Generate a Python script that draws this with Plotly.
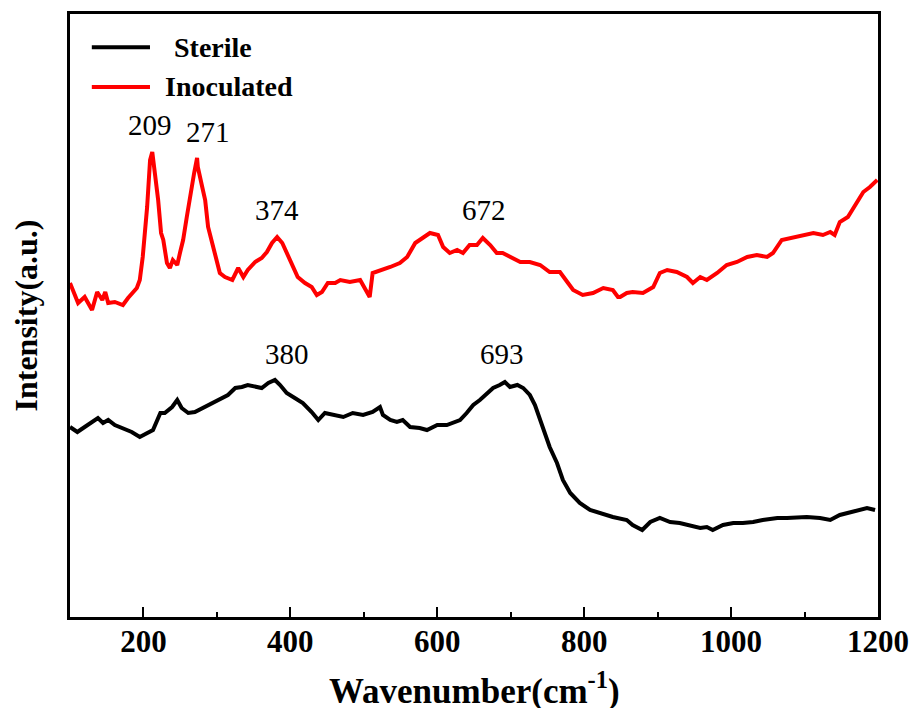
import plotly.graph_objects as go

# Raman spectra (intensity in arbitrary units)
inoc_wn = [100, 111, 120, 130, 137, 144, 148, 152, 161, 172, 179, 186, 191, 195, 199, 205, 209, 212, 214,
           220, 224, 227, 232, 236, 240, 246, 250, 254, 259, 265, 269, 273, 274, 280, 284, 288, 295, 300,
           304, 311, 321, 329, 336, 342, 352, 361, 368, 375, 382, 389, 395, 402, 410, 420, 429, 436, 443,
           451, 461, 468, 481, 495, 508, 512, 526, 536, 549, 559, 570, 581, 590, 601, 608, 617, 627, 635,
           644, 654, 662, 672, 681, 689, 699, 713, 726, 740, 753, 767, 777, 785, 798, 812, 826, 839, 846,
           849, 858, 866, 880, 894, 903, 913, 926, 940, 948, 958, 967, 981, 994, 1008, 1022, 1035, 1049,
           1057, 1069, 1083, 1097, 1112, 1125, 1135, 1141, 1148, 1159, 1171, 1180, 1189, 1199]
inoc_int = [334, 314, 320, 307, 325, 317, 325, 314, 315, 312, 319, 325, 329, 337, 360, 410, 457, 465, 454,
            417, 384, 377, 354, 349, 357, 352, 365, 377, 400, 430, 444, 459, 450, 430, 417, 390, 370, 357,
            344, 340, 337, 349, 340, 347, 355, 359, 365, 374, 380, 374, 364, 354, 340, 334, 330, 322, 325,
            334, 334, 337, 335, 337, 320, 344, 347, 350, 354, 360, 374, 380, 384, 382, 370, 364, 367, 364,
            372, 372, 379, 372, 364, 364, 360, 355, 355, 352, 345, 345, 335, 327, 322, 324, 329, 327, 320,
            320, 324, 325, 324, 330, 344, 347, 345, 340, 334, 340, 337, 344, 352, 355, 360, 362, 360,
            364, 377, 379, 382, 384, 382, 385, 382, 395, 400, 414, 425, 430, 437]

ster_wn = [100, 110, 120, 131, 138, 145, 152, 161, 172, 184, 195, 205, 213, 223, 229, 239, 246, 252, 261,
           270, 280, 288, 297, 307, 315, 325, 334, 342, 352, 361, 370, 379, 386, 395, 406, 417, 429, 438,
           447, 461, 472, 485, 499, 512, 522, 526, 536, 545, 553, 563, 576, 586, 600, 613, 621, 631, 640,
           649, 658, 668, 676, 685, 692, 699, 709, 717, 726, 733, 740, 744, 753, 763, 771, 781, 794, 808,
           822, 839, 858, 866, 879, 890, 903, 917, 930, 944, 958, 967, 975, 989, 1003, 1016, 1030, 1043,
           1063, 1076, 1090, 1103, 1121, 1135, 1148, 1166, 1185, 1196]
ster_int = [190, 185, 190, 195, 199, 194, 197, 192, 189, 185, 180, 184, 187, 204, 204, 210, 217, 209, 204,
            205, 209, 212, 215, 219, 222, 229, 230, 232, 230, 229, 234, 237, 232, 224, 219, 214, 205, 197,
            204, 202, 200, 204, 202, 205, 210, 202, 197, 195, 197, 190, 189, 187, 192, 192, 194, 197, 204,
            212, 217, 224, 229, 232, 235, 230, 232, 229, 222, 212, 197, 187, 170, 154, 137, 124, 114, 107,
            104, 100, 97, 92, 87, 95, 99, 95, 94, 92, 89, 90, 87, 92, 94, 94, 95, 97,
            99, 99, 100, 100, 99, 97, 102, 105, 109, 107]

peak_text = ['209', '271', '374', '672', '380', '693']
peak_x = [209, 288, 382, 664, 395, 688]
peak_y = [474, 467, 389, 389, 245, 245]

series = [('Sterile', ster_wn, ster_int, 'black'),
          ('Inoculated', inoc_wn, inoc_int, '#ff0000')]

fig = go.Figure()
for name, x, y, c in series:
    fig.add_trace(go.Scatter(x=x, y=y, mode='lines', name=name, showlegend=False,
                             line=dict(color=c, width=4)))

for t, x, y in zip(peak_text, peak_x, peak_y):
    fig.add_annotation(x=x, y=y, text=t, showarrow=False, yanchor='bottom',
                       font=dict(family='Liberation Serif', size=29, color='black'))

# hand-made legend (long line samples like the original)
leg_y = [0.945, 0.879]
leg_tx = [0.126, 0.115]
for (name, _, _, c), ly, tx in zip(series, leg_y, leg_tx):
    fig.add_shape(type='line', xref='paper', yref='paper', x0=0.027, x1=0.099, y0=ly, y1=ly,
                  line=dict(color=c, width=4))
    fig.add_annotation(xref='paper', yref='paper', x=tx, y=ly, text=name, showarrow=False,
                       xanchor='left', yanchor='middle',
                       font=dict(family='Liberation Serif', size=28, weight='bold', color='black'))

# x title as annotation so it can sit a bit lower
fig.add_annotation(xref='paper', yref='paper', x=0.501, y=-0.118, text='Wavenumber(cm<sup>-1</sup>)',
                   showarrow=False, xanchor='center', yanchor='middle',
                   font=dict(family='Liberation Serif', size=35, weight='bold', color='black'))

# page has an 8px body margin, so the figure is a bit smaller than the window
fig.update_layout(
    width=909, height=700,
    margin=dict(l=62, r=39, t=6, b=91),
    plot_bgcolor='white', paper_bgcolor='white',
    font=dict(family='Liberation Serif', color='black'),
    showlegend=False,
)
fig.update_xaxes(range=[100, 1200], showgrid=False, zeroline=False, automargin=False,
                 showline=True, linecolor='black', linewidth=3, mirror=True,
                 tickmode='array', tickvals=[200, 400, 600, 800, 1000, 1200],
                 ticks='inside', ticklen=10, tickwidth=2, tickcolor='black',
                 minor=dict(tickvals=[300, 500, 700, 900, 1100], ticks='inside', ticklen=5,
                            tickwidth=2, tickcolor='black'),
                 ticklabelstandoff=-5,
                 tickfont=dict(size=31, family='Liberation Serif', weight='bold'))
fig.update_yaxes(range=[0, 603], showgrid=False, zeroline=False, automargin=False,
                 showline=True, linecolor='black', linewidth=3, mirror=True,
                 showticklabels=False, ticks='',
                 title=dict(text='Intensity(a.u.)', standoff=22,
                            font=dict(size=32, family='Liberation Serif', weight='bold')))

fig.write_html('out.html')
